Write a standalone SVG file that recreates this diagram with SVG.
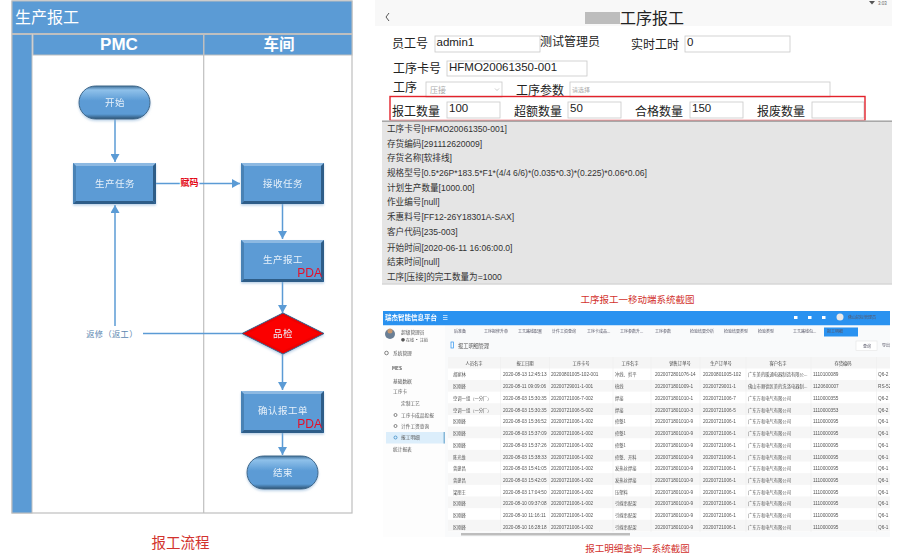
<svg xmlns="http://www.w3.org/2000/svg" width="916" height="555" viewBox="0 0 916 555">
<style>
text{font-family:"Liberation Sans","Noto Sans CJK SC",sans-serif}
.cn{font-family:"Noto Sans CJK SC",sans-serif}
.band{fill:#5b9bd5;stroke:#bfbfbf;stroke-width:1}
.lane{fill:none;stroke:#bfbfbf;stroke-width:1.2}
.hd{fill:#fff;font-weight:700;text-anchor:middle;font-size:17px}
.face{fill:#5b9bd5}
.tl{fill:#8db9e2}.br{fill:#2f5d88}.sd{fill:#4a82b5}
.nt{fill:#e8f1fa;font-size:9.5px;letter-spacing:.5px;text-anchor:middle;font-family:"Noto Sans CJK SC",sans-serif}
.pda{fill:#e5102a;font-size:12px;text-anchor:end}
.cnx{fill:none;stroke:#5b9bd5;stroke-width:1.5}
.fl{font-size:12px;fill:#222}
.val{font-size:11.5px;fill:#222}
.ipt{fill:#fff;stroke:#c9c9c9;stroke-width:.8}
.inf{font-size:8.6px;fill:#333}
.cap{fill:#d2322d;text-anchor:middle;font-family:"Noto Sans CJK SC",sans-serif}
.t{font-size:4.7px;fill:#555}
.t.cn{font-size:4.3px}
.h{font-size:4.3px;fill:#444;text-anchor:middle}
.s{font-size:4.7px;fill:#555}
.tb{font-size:4px;fill:#556}
</style>
<defs>
<marker id="ah" markerUnits="userSpaceOnUse" markerWidth="9" markerHeight="9" refX="8" refY="4.5" orient="auto"><path d="M0 0L8 4.5L0 9z" fill="#5b9bd5"/></marker>
<linearGradient id="pill" x1="0" y1="0" x2="0" y2="1"><stop offset="0" stop-color="#3f7099"/><stop offset=".12" stop-color="#8fc1ea"/><stop offset=".45" stop-color="#5b9bd5"/><stop offset=".85" stop-color="#5b9bd5"/><stop offset="1" stop-color="#2c5373"/></linearGradient>
<filter id="bl" x="-2%" y="-2%" width="104%" height="104%"><feGaussianBlur stdDeviation=".35"/></filter>
<filter id="sh" x="-10%" y="-10%" width="120%" height="125%"><feDropShadow dx="0" dy="1.5" stdDeviation="1.2" flood-color="#8fb4d8" flood-opacity=".6"/></filter>
<clipPath id="cp"><rect x="383" y="311" width="507" height="226"/></clipPath>
</defs>
<rect width="916" height="555" fill="#fff"/>

<g id="swimlane">
<rect x="12" y="1" width="340" height="512" fill="#fff" stroke="#bfbfbf" stroke-width="1.2"/>
<rect class="band" x="12" y="1" width="340" height="32.5"/>
<text class="cn" x="15" y="23" font-size="16" fill="#fff">生产报工</text>
<rect class="band" x="12" y="34.5" width="20" height="478.5"/>
<rect class="band" x="33" y="34.5" width="170.5" height="20.5"/>
<rect class="band" x="204" y="34.5" width="148" height="20.5"/>
<text class="hd" x="119" y="50">PMC</text>
<text class="hd cn" x="279" y="49.5" style="font-size:15.5px">车间</text>
<path class="lane" d="M203.7 55V513"/>
</g>

<g id="connectors">
<path class="cnx" d="M115 119V162" marker-end="url(#ah)"/>
<path class="cnx" d="M156 183.5H240" marker-end="url(#ah)"/>
<path class="cnx" d="M282.5 204V239" marker-end="url(#ah)"/>
<path class="cnx" d="M282.5 282V313" marker-end="url(#ah)"/>
<path class="cnx" d="M282.5 354V390" marker-end="url(#ah)"/>
<path class="cnx" d="M282.5 433V455" marker-end="url(#ah)"/>
<path class="cnx" d="M242 333.5H143"/>
<path class="cnx" d="M115 326V205" marker-end="url(#ah)"/>
<text x="189.5" y="186" font-size="9" font-weight="700" fill="#e30613" text-anchor="middle" class="cn" stroke="#fff" stroke-width="2.5" paint-order="stroke">赋码</text>
<text x="112" y="336.5" font-size="8.2" letter-spacing=".4" fill="#5b87b0" text-anchor="middle" class="cn">返修（返工）</text>
</g>

<g id="node-start" filter="url(#sh)"><rect x="79" y="86" width="71" height="33" rx="16.5" fill="url(#pill)" stroke="#3f6688"/><text class="nt" x="115" y="105.5">开始</text></g>
<g id="node-task" filter="url(#sh)"><rect class="face" x="73" y="163" width="83" height="41"/><path class="tl" d="M73 163H156L153 166H76z"/><path class="sd" d="M73 163L76 166V201L73 204z"/><path class="br" d="M156 163V204L153 201V166z"/><path class="br" d="M73 204H156L153 201H76z"/><text class="nt" x="115" y="187">生产任务</text></g>
<g id="node-receive" filter="url(#sh)"><rect class="face" x="241" y="163" width="83" height="41"/><path class="tl" d="M241 163H324L321 166H244z"/><path class="sd" d="M241 163L244 166V201L241 204z"/><path class="br" d="M324 163V204L321 201V166z"/><path class="br" d="M241 204H324L321 201H244z"/><text class="nt" x="283" y="187">接收任务</text></g>
<g id="node-report" filter="url(#sh)"><rect class="face" x="241" y="240" width="83" height="42"/><path class="tl" d="M241 240H324L321 243H244z"/><path class="sd" d="M241 240L244 243V279L241 282z"/><path class="br" d="M324 240V282L321 279V243z"/><path class="br" d="M241 282H324L321 279H244z"/><text class="nt" x="283" y="263">生产报工</text><text class="pda" x="322" y="277">PDA</text></g>
<g id="node-check" filter="url(#sh)"><path d="M283 313L324 333.5L283 354L242 333.5z" fill="#ee0000" stroke="#2f5d88" stroke-width="1"/><path d="M283 316L318 333.5L283 351L248 333.5z" fill="#fb0000"/><text class="nt" x="283" y="337">品检</text></g>
<g id="node-confirm" filter="url(#sh)"><rect class="face" x="241" y="391" width="83" height="42"/><path class="tl" d="M241 391H324L321 394H244z"/><path class="sd" d="M241 391L244 394V430L241 433z"/><path class="br" d="M324 391V433L321 430V394z"/><path class="br" d="M241 433H324L321 430H244z"/><text class="nt" x="283" y="414">确认报工单</text><text class="pda" x="322" y="427.5">PDA</text></g>
<g id="node-end" filter="url(#sh)"><rect x="247" y="456" width="71" height="33" rx="16.5" fill="url(#pill)" stroke="#3f6688"/><text class="nt" x="283" y="475.5">结束</text></g>

<text class="cap" x="180.5" y="548" font-size="14.5">报工流程</text>

<g id="mobile-form">
<rect x="375" y="0" width="517" height="26" fill="#f8f8f8"/>
<path d="M869 1H875L872 4.5z" fill="#555"/>
<text x="878" y="4.5" font-size="4.5" fill="#666">3:03</text>
<path d="M389 13L386 17L389 21" fill="none" stroke="#444" stroke-width=".9"/>
<rect x="585" y="12" width="35" height="12" fill="#bdbdbd"/>
<text class="cn" x="620" y="24" font-size="16" fill="#222">工序报工</text>
<text class="fl cn" x="392" y="48">员工号</text>
<rect class="ipt" x="435" y="36" width="105" height="16"/>
<text class="val" x="436.5" y="46">admin1</text>
<text class="fl cn" x="540" y="46">测试管理员</text>
<text class="fl cn" x="631" y="48.5">实时工时</text>
<rect class="ipt" x="685" y="36" width="105" height="16"/>
<text class="val" x="687" y="46">0</text>
<text class="fl cn" x="393" y="72.5">工序卡号</text>
<rect class="ipt" x="447" y="61" width="140" height="15"/>
<text class="val" x="449" y="70.5">HFMO20061350-001</text>
<text class="fl cn" x="393" y="92">工序</text>
<rect class="ipt" x="426" y="82" width="76" height="15"/>
<text class="cn" x="430" y="92.5" font-size="8" fill="#aaa">压接</text>
<path d="M495 88.5L497 90.5L499 88.5" fill="none" stroke="#aaa" stroke-width=".6"/>
<text class="fl cn" x="516" y="94.5">工序参数</text>
<rect class="ipt" x="570" y="82" width="260" height="15"/>
<text class="cn" x="572" y="92" font-size="6" fill="#aaa">请选择</text>
<text class="fl cn" x="392" y="115.5">报工数量</text>
<rect class="ipt" x="447" y="102" width="53" height="16"/>
<text class="val" x="449" y="112">100</text>
<text class="fl cn" x="514" y="115.5">超额数量</text>
<rect class="ipt" x="568" y="102" width="53" height="16"/>
<text class="val" x="570" y="112">50</text>
<text class="fl cn" x="635" y="115.5">合格数量</text>
<rect class="ipt" x="690" y="102" width="53" height="16"/>
<text class="val" x="692" y="112">150</text>
<text class="fl cn" x="757" y="115.5">报废数量</text>
<rect class="ipt" x="812" y="102" width="52" height="16"/>
<rect x="390" y="96.5" width="475" height="24" fill="none" stroke="#e3222b" stroke-width="1.4"/>
<rect x="382" y="120.5" width="510" height="164" fill="#e5e5e5"/>
<rect x="382" y="120.5" width="510" height="1.5" fill="#a8a8a8"/>
<rect x="382" y="283.5" width="510" height="1" fill="#cfcfcf"/>
<text class="inf" x="387" y="131.5">工序卡号[HFMO20061350-001]</text>
<text class="inf" x="387" y="146.5">存货编码[291112620009]</text>
<text class="inf" x="387" y="160.5">存货名称[软排线]</text>
<text class="inf" x="387" y="175.5">规格型号[0.5*26P*183.5*F1*(4/4 6/6)*(0.035*0.3)*(0.225)*0.06*0.06]</text>
<text class="inf" x="387" y="190.5">计划生产数量[1000.00]</text>
<text class="inf" x="387" y="205">作业编号[null]</text>
<text class="inf" x="387" y="219.5">禾惠料号[FF12-26Y18301A-SAX]</text>
<text class="inf" x="387" y="235">客户代码[235-003]</text>
<text class="inf" x="387" y="251">开始时间[2020-06-11 16:06:00.0]</text>
<text class="inf" x="387" y="265">结束时间[null]</text>
<text class="inf" x="387" y="280">工序[压接]的完工数量为=1000</text>
</g>
<text class="cap" x="637.5" y="303" font-size="9.5">工序报工一移动端系统截图</text>

<g id="web-screenshot" clip-path="url(#cp)">
<rect x="383" y="311" width="507" height="14.5" fill="#2a92f0"/>
<rect x="383" y="325.5" width="62" height="212" fill="#fdfdfd"/>
<rect x="445" y="325.5" width="445" height="212" fill="#f9fafb"/>
<rect x="448" y="357" width="442" height="175" fill="#fff"/>
<rect x="448" y="357" width="442" height="11.5" fill="#f5f5f5"/>
<g fill="#f6f6f6">
<rect x="448" y="380" width="442" height="11.6"/><rect x="448" y="403.3" width="442" height="11.6"/><rect x="448" y="426.6" width="442" height="11.6"/><rect x="448" y="449.9" width="442" height="11.6"/><rect x="448" y="473.2" width="442" height="11.6"/><rect x="448" y="496.5" width="442" height="11.6"/><rect x="448" y="519.8" width="442" height="11.6"/>
</g>
<path d="M500.5 357V532M549.5 357V532M613 357V532M651 357V532M700 357V532M746 357V532M811 357V532M876.5 357V532" stroke="#efefef" stroke-width=".6"/>
<rect x="461" y="533" width="169" height="2.5" fill="#bdbdbd"/>
<rect x="386" y="432" width="59" height="11.5" fill="#dceefb"/>
<rect x="443.5" y="432" width="1.5" height="11.5" fill="#86b7d8"/>
<rect x="824" y="327.5" width="34" height="9" fill="#2a92f0"/>
<circle cx="390" cy="334" r="5" fill="#6a7f95"/><circle cx="390" cy="331" r="2.5" fill="#c89870"/>
<rect x="451" y="342" width="2.5" height="6" fill="none" stroke="#2a92f0" stroke-width=".7"/>
<rect x="856" y="341" width="21" height="9.5" fill="#fff" stroke="#e0e0e0" stroke-width=".5"/>
<circle cx="840" cy="317" r="3.5" fill="#e8e8e8"/>
<path d="M443 315.5h4.5M443 317.5h4.5M443 319.5h4.5" stroke="#d8ecff" stroke-width=".8"/>
<rect x="794" y="316" width="3.5" height="3" fill="#fff"/><rect x="808" y="316" width="3.5" height="3" fill="#fff"/><rect x="822" y="316" width="3.5" height="3" fill="#fff"/>
<g fill="none" stroke="#555" stroke-width=".7"><circle cx="386.500" cy="353" r="1.800"/><circle cx="395.500" cy="415" r="1.500"/><circle cx="395.500" cy="426" r="1.500"/></g>
<circle cx="395.500" cy="437.500" r="1.500" fill="none" stroke="#2a7fc0" stroke-width=".7"/>
<g filter="url(#bl)">
<text x="385" y="320" font-size="6.5" font-weight="700" fill="#fff" class="cn">瑞杰智能信息平台</text>
<text class="s cn" x="401" y="334">超级管理员</text>
<text class="s cn" x="401" y="342" style="font-size:4px">● 在线  ▪ 注销</text>
<text class="s cn" x="393" y="355">系统管理</text>
<text class="s cn" x="392" y="370" font-weight="700">MES</text>
<text class="s cn" x="393" y="383">基础数据</text>
<text class="s cn" x="393" y="393">工序卡</text>
<text class="s cn" x="401" y="405">定制工艺</text>
<text class="s cn" x="401" y="417">工序卡成品投报</text>
<text class="s cn" x="401" y="428">计件工资查询</text>
<text class="s cn" x="401" y="439" fill="#2a7fc0">报工明细</text>
<text class="s cn" x="393" y="451">统计报表</text>
<text class="tb cn" x="454" y="333">后准备</text>
<text class="tb cn" x="484" y="333">工序报修升单</text>
<text class="tb cn" x="518" y="333">工艺路线配置</text>
<text class="tb cn" x="552" y="333">计件工资查询</text>
<text class="tb cn" x="587" y="333">工序卡成品...</text>
<text class="tb cn" x="620" y="333">工序参数升...</text>
<text class="tb cn" x="655" y="333">工序参数</text>
<text class="tb cn" x="690" y="333">检验结果分析</text>
<text class="tb cn" x="724" y="333">检验结果类型</text>
<text class="tb cn" x="758" y="333">检验类型</text>
<text class="tb cn" x="793" y="333">工艺路线包...</text>
<text class="tb cn" x="827" y="333" fill="#fff">报工明细</text>
<text class="cn" x="458" y="347.5" font-size="5.2" fill="#555">报工明细管理</text>
<text class="tb cn" x="863" y="348">查询</text>
<text class="tb cn" x="882" y="347">导出</text>
<text class="tb cn" x="848" y="319" fill="#fff">佛山招标管理员</text>
<text class="h cn" x="474" y="365">人员名字</text><text class="h cn" x="525" y="365" fill="#2a92f0">报工日期</text><text class="h cn" x="581" y="365">工序卡号</text><text class="h cn" x="630" y="365">工序名字</text><text class="h cn" x="680" y="365">销售订单号</text><text class="h cn" x="721" y="365">生产订单号</text><text class="h cn" x="778" y="365">客户名字</text><text class="h cn" x="843" y="365">存货编码</text>
<g id="rows">
<text class="t cn" x="453" y="376">胡家林</text><text class="t" x="503" y="376">2020-08-13 12:45:13</text><text class="t" x="551" y="376">20200801005-102-001</text><text class="t cn" x="615" y="376">冲线、剪平</text><text class="t" x="655" y="376">2020072801076-14</text><text class="t" x="703" y="376">20200801005-102</text><text class="t cn" x="748" y="376">广东美的暖通电器制造有限公...</text><text class="t" x="813" y="376">1110100089</text><text class="t" x="878" y="376">Q6-2</text>
<text class="t cn" x="453" y="388">区刚峰</text><text class="t" x="503" y="388">2020-08-11 09:09:06</text><text class="t" x="551" y="388">20200729001-1-001</text><text class="t cn" x="615" y="388">绕线</text><text class="t" x="655" y="388">2020071801009-1</text><text class="t" x="703" y="388">20200729001-1</text><text class="t cn" x="748" y="388">佛山市顺德区美的洗涤电器制...</text><text class="t" x="813" y="388">1120600007</text><text class="t" x="878" y="388">RS-52</text>
<text class="t cn" x="453" y="400">空调一组（一分厂）</text><text class="t" x="503" y="400">2020-08-03 15:30:35</text><text class="t" x="551" y="400">20200721006-7-002</text><text class="t cn" x="615" y="400">焊接</text><text class="t" x="655" y="400">2020071801010-1</text><text class="t" x="703" y="400">20200721006-7</text><text class="t cn" x="748" y="400">广东万和电气有限公司</text><text class="t" x="813" y="400">1110000355</text><text class="t" x="878" y="400">Q6-2</text>
<text class="t cn" x="453" y="411.5">空调一组（一分厂）</text><text class="t" x="503" y="411.5">2020-08-03 15:30:35</text><text class="t" x="551" y="411.5">20200721006-5-002</text><text class="t cn" x="615" y="411.5">焊接</text><text class="t" x="655" y="411.5">2020071801010-3</text><text class="t" x="703" y="411.5">20200721006-5</text><text class="t cn" x="748" y="411.5">广东万和电气有限公司</text><text class="t" x="813" y="411.5">1110000353</text><text class="t" x="878" y="411.5">Q6-2</text>
<text class="t cn" x="453" y="423">区刚峰</text><text class="t" x="503" y="423">2020-08-03 15:36:52</text><text class="t" x="551" y="423">20200721006-1-002</text><text class="t cn" x="615" y="423">修整1</text><text class="t" x="655" y="423">2020071801010-9</text><text class="t" x="703" y="423">20200721006-1</text><text class="t cn" x="748" y="423">广东万和电气有限公司</text><text class="t" x="813" y="423">1110000095</text><text class="t" x="878" y="423">Q6-1</text>
<text class="t cn" x="453" y="435">区刚峰</text><text class="t" x="503" y="435">2020-08-03 15:37:09</text><text class="t" x="551" y="435">20200721006-1-002</text><text class="t cn" x="615" y="435">修整1</text><text class="t" x="655" y="435">2020071801010-9</text><text class="t" x="703" y="435">20200721006-1</text><text class="t cn" x="748" y="435">广东万和电气有限公司</text><text class="t" x="813" y="435">1110000095</text><text class="t" x="878" y="435">Q6-1</text>
<text class="t cn" x="453" y="446.5">区刚峰</text><text class="t" x="503" y="446.5">2020-08-03 15:37:26</text><text class="t" x="551" y="446.5">20200721006-1-002</text><text class="t cn" x="615" y="446.5">修整1</text><text class="t" x="655" y="446.5">2020071801010-9</text><text class="t" x="703" y="446.5">20200721006-1</text><text class="t cn" x="748" y="446.5">广东万和电气有限公司</text><text class="t" x="813" y="446.5">1110000095</text><text class="t" x="878" y="446.5">Q6-1</text>
<text class="t cn" x="453" y="458.5">陈光维</text><text class="t" x="503" y="458.5">2020-08-03 15:38:33</text><text class="t" x="551" y="458.5">20200721006-1-002</text><text class="t cn" x="615" y="458.5">修整、开料</text><text class="t" x="655" y="458.5">2020071801010-9</text><text class="t" x="703" y="458.5">20200721006-1</text><text class="t cn" x="748" y="458.5">广东万和电气有限公司</text><text class="t" x="813" y="458.5">1110000095</text><text class="t" x="878" y="458.5">Q6-1</text>
<text class="t cn" x="453" y="470">曾建昌</text><text class="t" x="503" y="470">2020-08-03 15:41:05</text><text class="t" x="551" y="470">20200721006-1-002</text><text class="t cn" x="615" y="470">发热丝焊接</text><text class="t" x="655" y="470">2020071801010-9</text><text class="t" x="703" y="470">20200721006-1</text><text class="t cn" x="748" y="470">广东万和电气有限公司</text><text class="t" x="813" y="470">1110000095</text><text class="t" x="878" y="470">Q6-1</text>
<text class="t cn" x="453" y="482">曾建昌</text><text class="t" x="503" y="482">2020-08-03 15:42:05</text><text class="t" x="551" y="482">20200721006-1-002</text><text class="t cn" x="615" y="482">发热丝焊接</text><text class="t" x="655" y="482">2020071801010-9</text><text class="t" x="703" y="482">20200721006-1</text><text class="t cn" x="748" y="482">广东万和电气有限公司</text><text class="t" x="813" y="482">1110000095</text><text class="t" x="878" y="482">Q6-1</text>
<text class="t cn" x="453" y="493.5">梁朋王</text><text class="t" x="503" y="493.5">2020-08-03 17:04:50</text><text class="t" x="551" y="493.5">20200721006-1-002</text><text class="t cn" x="615" y="493.5">压塑料</text><text class="t" x="655" y="493.5">2020071801010-9</text><text class="t" x="703" y="493.5">20200721006-1</text><text class="t cn" x="748" y="493.5">广东万和电气有限公司</text><text class="t" x="813" y="493.5">1110000095</text><text class="t" x="878" y="493.5">Q6-1</text>
<text class="t cn" x="453" y="505">区刚峰</text><text class="t" x="503" y="505">2020-08-10 09:37:08</text><text class="t" x="551" y="505">20200721006-1-002</text><text class="t cn" x="615" y="505">引線串配架</text><text class="t" x="655" y="505">2020071801010-9</text><text class="t" x="703" y="505">20200721006-1</text><text class="t cn" x="748" y="505">广东万和电气有限公司</text><text class="t" x="813" y="505">1110000095</text><text class="t" x="878" y="505">Q6-1</text>
<text class="t cn" x="453" y="517">区刚峰</text><text class="t" x="503" y="517">2020-08-10 11:16:11</text><text class="t" x="551" y="517">20200721006-1-002</text><text class="t cn" x="615" y="517">引線串配架</text><text class="t" x="655" y="517">2020071801010-9</text><text class="t" x="703" y="517">20200721006-1</text><text class="t cn" x="748" y="517">广东万和电气有限公司</text><text class="t" x="813" y="517">1110000095</text><text class="t" x="878" y="517">Q6-1</text>
<text class="t cn" x="453" y="528.5">区刚峰</text><text class="t" x="503" y="528.5">2020-08-10 16:28:18</text><text class="t" x="551" y="528.5">20200721006-1-002</text><text class="t cn" x="615" y="528.5">引線串配架</text><text class="t" x="655" y="528.5">2020071801010-9</text><text class="t" x="703" y="528.5">20200721006-1</text><text class="t cn" x="748" y="528.5">广东万和电气有限公司</text><text class="t" x="813" y="528.5">1110000095</text><text class="t" x="878" y="528.5">Q6-1</text>
</g>
</g>
</g>
<text class="cap" x="637.5" y="552" font-size="9.5">报工明细查询一系统截图</text>
</svg>
